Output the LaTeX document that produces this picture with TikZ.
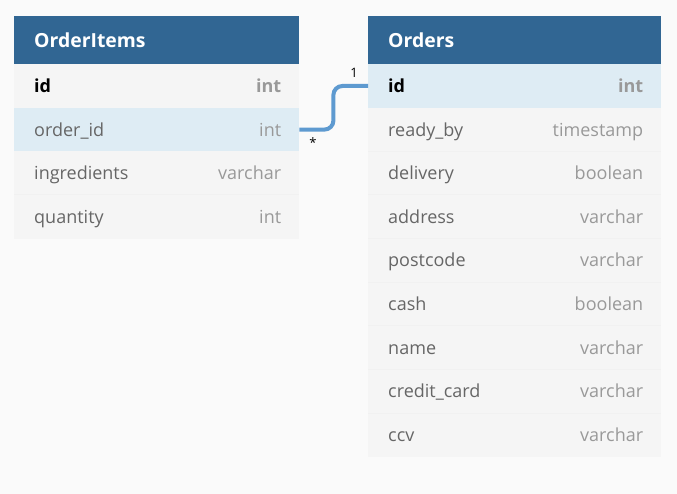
\documentclass[tikz,border=0pt]{standalone}
\usepackage{fontspec}
\setmainfont{Open Sans}
\definecolor{bgc}{HTML}{FAFAFA}
\definecolor{hdrc}{HTML}{316693}
\definecolor{rowc}{HTML}{F5F5F5}
\definecolor{hlc}{HTML}{DEECF4}
\definecolor{sepc}{HTML}{F1F1F1}
\definecolor{namec}{HTML}{666666}
\definecolor{typec}{HTML}{999999}
\definecolor{connc}{HTML}{5E9AD0}
\begin{document}
\begin{tikzpicture}[x=1pt,y=-1pt,
  hdr/.style={fill=hdrc, text=white, anchor=north west, inner xsep=20pt, inner ysep=0pt, minimum height=48pt, text height=16pt, text depth=2pt, align=left, font=\fontsize{19.4}{22}\selectfont\bfseries},
  row/.style={fill=rowc, text=namec, anchor=north west, inner xsep=20pt, inner ysep=0pt, minimum height=43.6pt, text height=15pt, text depth=2pt, align=left, font=\fontsize{18}{21}\selectfont},
  hl/.style={fill=hlc},
  key/.style={text=black, font=\fontsize{18}{21}\selectfont\bfseries},
  typ/.style={text=typec, anchor=east, inner sep=0pt, text height=15pt, text depth=2pt, font=\fontsize{18}{21}\selectfont},
  keytyp/.style={font=\fontsize{18}{21}\selectfont\bfseries},
  lw/.style={text width=245pt},
  rw/.style={text width=253pt},
  sep/.style={draw=sepc, line width=0.6pt},
  conn/.style={draw=connc, line width=4pt, rounded corners=9pt},
  card/.style={inner sep=0pt, font=\fontsize{13}{15}\selectfont, text=black}
]
\fill[bgc] (0,0) rectangle (677,494);
\useasboundingbox (0,0) rectangle (677,494);

% OrderItems table
\node[hdr, lw] (oih) at (14,16) {OrderItems};
\node[row, lw, key] (oi1) at (14,64) {id};
\node[row, lw, hl] (oi2) at (14,107.6) {order\_id};
\node[row, lw] (oi3) at (14,151.2) {ingredients};
\node[row, lw] (oi4) at (14,194.8) {quantity};
\draw[sep] (oi4.north west) -- (oi4.north east);
\node[typ, keytyp] (oi1t) at ([xshift=-18pt]oi1.east) {int};
\node[typ] (oi2t) at ([xshift=-18pt]oi2.east) {int};
\node[typ] (oi3t) at ([xshift=-18pt]oi3.east) {varchar};
\node[typ] (oi4t) at ([xshift=-18pt]oi4.east) {int};

% Orders table
\node[hdr, rw] (oh) at (368,16) {Orders};
\node[row, rw, key, hl] (o1) at (368,64) {id};
\node[row, rw] (o2) at (368,107.6) {ready\_by};
\node[row, rw] (o3) at (368,151.2) {delivery};
\node[row, rw] (o4) at (368,194.8) {address};
\node[row, rw] (o5) at (368,238.4) {postcode};
\node[row, rw] (o6) at (368,282) {cash};
\node[row, rw] (o7) at (368,325.6) {name};
\node[row, rw] (o8) at (368,369.2) {credit\_card};
\node[row, rw] (o9) at (368,412.8) {ccv};
\foreach \r in {o3,o4,o5,o6,o7,o8,o9} \draw[sep] (\r.north west) -- (\r.north east);
\node[typ, keytyp] (o1t) at ([xshift=-18pt]o1.east) {int};
\node[typ] (o2t) at ([xshift=-18pt]o2.east) {timestamp};
\node[typ] (o3t) at ([xshift=-18pt]o3.east) {boolean};
\node[typ] (o4t) at ([xshift=-18pt]o4.east) {varchar};
\node[typ] (o5t) at ([xshift=-18pt]o5.east) {varchar};
\node[typ] (o6t) at ([xshift=-18pt]o6.east) {boolean};
\node[typ] (o7t) at ([xshift=-18pt]o7.east) {varchar};
\node[typ] (o8t) at ([xshift=-18pt]o8.east) {varchar};
\node[typ] (o9t) at ([xshift=-18pt]o9.east) {varchar};

% connector
\draw[conn] (oi2.east) -- ++(34,0) |- (o1.west);
\node[card] (cm) at (313,143) {*};
\node[card] (c1) at (354,73) {1};
\end{tikzpicture}
\end{document}
